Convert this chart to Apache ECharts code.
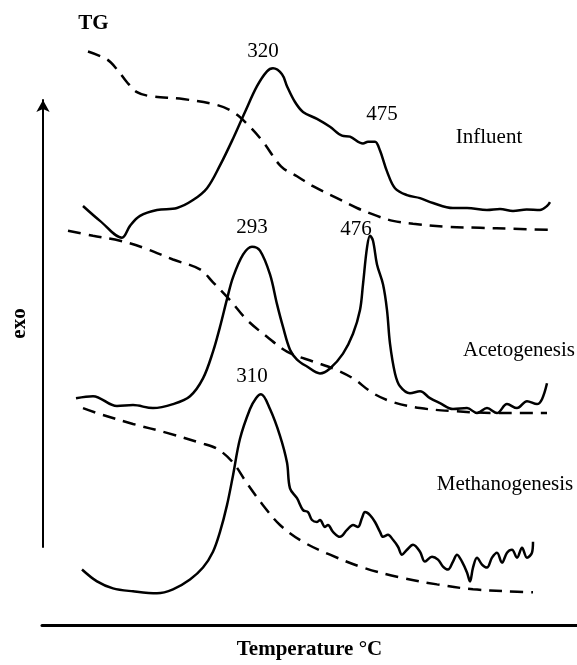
<!DOCTYPE html>
<html>
<head>
<meta charset="utf-8">
<script src="https://cdn.jsdelivr.net/npm/echarts@6/dist/echarts.min.js"></script>
<style>
html,body{margin:0;padding:0;background:#fff;}
#c{width:577px;height:665px;}
</style>
</head>
<body>
<div id="c"></div>
<script>
// Temperature (approx. °C) vs. signal (arbitrary units, curves stacked)
const influentDTA = [[44.5,84.6],[70,81.6],[103,78.2],[115,80.6],[130,82.6],[155.5,83.8],[185.5,84.2],[209.5,85.8],[230.5,88.2],[250,92.8],[269.5,98.2],[287.5,103.6],[305.5,108.8],[320.5,111.8],[329.5,112.4],[343,111.2],[350.5,108.8],[362.5,105.6],[374.5,103.6],[395.5,102.2],[415,100.6],[433,98.8],[445,98.6],[464.5,97.2],[472,97.6],[482.5,97.6],[490,95.8],[500.5,91.6],[512.5,88.2],[530.5,86.8],[550,86.2],[569.5,85.2],[599.5,84.2],[620.5,84.2],[650.5,83.8],[670,84.0],[689.5,83.6],[710,83.9],[730,83.8],[740.5,84.6],[745,85.4]];
const influentTG = [[52,115.8],[80.5,114.2],[95.5,112.2],[110.5,109.6],[125.5,107.6],[145,106.8],[194.5,106.2],[245.5,105],[269.5,103.6],[290.5,101.2],[314.5,97.6],[341.5,92.6],[365.5,90.6],[389.5,88.6],[425.5,86.2],[455.5,84.2],[485.5,82.6],[509.5,81.6],[539.5,81],[590.5,80.4],[640,80.2],[689.5,80],[745,79.8]];
const acetoDTA = [[34,45.8],[59.5,46.2],[95.5,44.2],[119.5,44.4],[149.5,43.8],[179.5,44.6],[205,46.2],[224.5,49.8],[239.5,55.2],[250,60.2],[260.5,65.8],[269.5,70.2],[284.5,74.8],[298,76.4],[310,75.6],[325,70.8],[335.5,64.8],[344.5,60.2],[355,55.6],[365.5,53.6],[380.5,52.2],[400,50.8],[415,51.8],[434.5,54.8],[449.5,58.8],[460,63.6],[464.5,68.8],[470.5,76.2],[475,78.6],[479.5,77.6],[485.5,72.8],[494.5,68.8],[500.5,63.6],[505,56.8],[512.5,50.8],[520,48.2],[535,46.8],[550,47.2],[565,45.8],[580,44.8],[599.5,43.6],[620.5,43.8],[635.5,42.8],[650.5,43.8],[665.5,42.8],[680.5,44.6],[695.5,43.8],[710.5,45.2],[725.5,44.6],[733,45.6],[740.5,48.8]];
const acetoTG = [[22,79.6],[59.5,78.6],[100,77.6],[134.5,76.2],[179.5,73.8],[220,71.8],[239.5,69.2],[265,65.6],[290.5,61.6],[320.5,58.2],[350.5,55.2],[389.5,53.2],[419.5,51.8],[449.5,49.8],[479.5,46.8],[509.5,45],[550,43.8],[599.5,43.2],[665.5,42.8],[740.5,42.8]];
const methanoDTA = [[43,11.2],[65.5,8.8],[89.5,7.4],[119.5,6.8],[155.5,6.4],[179.5,7.2],[205,9.2],[224.5,11.6],[239.5,14.8],[250,18.8],[260.5,24.2],[269.5,30.2],[280,37.6],[295,43.6],[304,45.8],[311.5,46.6],[325,43.6],[340,38.2],[350.5,32.8],[355,27.6],[365.5,25.6],[374.5,23.2],[382,22.8],[388,21.2],[395.5,20.8],[400,21.2],[407.5,19.8],[412,20.2],[419.5,18.8],[430,17.8],[440.5,19.2],[449.5,20.2],[457,19.8],[463,21.6],[467.5,22.8],[475,22.2],[482.5,20.8],[490,18.8],[494.5,17.8],[502,18.2],[509.5,17.2],[517,15.8],[523,14.2],[530.5,15.2],[539.5,16.2],[550,14.8],[557.5,12.8],[568,13.8],[577,13.2],[584.5,11.8],[592,11.2],[599.5,12.8],[605.5,14.2],[613,12.8],[620.5,10.6],[625,8.8],[629.5,11.6],[635.5,13.6],[643,12.2],[650.5,11.6],[658,13.6],[665.5,14.6],[673,12.6],[680.5,14.6],[688,15.2],[695.5,13.6],[703,15.6],[710.5,13.6],[718,14.6],[719.5,16.8]];
const methanoTG = [[44.5,43.8],[70,42.6],[119.5,40.6],[170.5,38.8],[220,36.8],[245.5,35.6],[269.5,32.8],[290.5,28.6],[314.5,24.2],[340,20.2],[374.5,16.8],[415,14.2],[464.5,11.6],[520,9.6],[575.5,8.2],[629.5,7.2],[680.5,6.8],[719.5,6.6]];

const peakTexts = ['320','475','293','476','310'];
const sampleNames = ['Influent','Acetogenesis','Methanogenesis'];

const FONT = 'Liberation Serif';
const chart = echarts.init(document.getElementById('c'), null, {renderer:'canvas'});

function curve(data, dashed){
  return {
    type:'line', data:data, xAxisIndex:0, yAxisIndex:0,
    symbol:'none', showSymbol:false, smooth:0.35, silent:true,
    lineStyle:{color:'#000', width:2.5, type: dashed ? [13,8] : 'solid', cap:'butt'}
  };
}

// annotation anchors (label placement)
const annot = [
  {name:peakTexts[0], value:[314.5,115.8]},
  {name:peakTexts[1], value:[493,103]},
  {name:peakTexts[2], value:[298,80.3]},
  {name:peakTexts[3], value:[454,79.8]},
  {name:peakTexts[4], value:[298,50.2]},
  {name:sampleNames[0], value:[653.5,98.5]},
  {name:sampleNames[1], value:[698.5,55.4]},
  {name:sampleNames[2], value:[677.5,28.4]},
  {name:'TG', value:[60,121.4], bold:true}
].map(a => ({
  name:a.name, value:a.value,
  label:{fontWeight: a.bold ? 'bold' : 'normal'}
}));

chart.setOption({
  animation:false,
  backgroundColor:'#fff',
  grid:[
    {left:42, right:0, top:0, bottom:34},
    {left:43, top:100, bottom:118, width:10}
  ],
  xAxis:[
    {type:'value', gridIndex:0, min:-17, max:785.5,
     axisLine:{show:true, onZero:false, lineStyle:{color:'#000', width:3}},
     axisTick:{show:false}, axisLabel:{show:false}, splitLine:{show:false},
     name:'Temperature °C', nameLocation:'middle', nameGap:14,
     nameTextStyle:{fontFamily:FONT, fontWeight:'bold', fontSize:21, color:'#000'}},
    {type:'value', gridIndex:1, min:0, max:1, show:false}
  ],
  yAxis:[
    {type:'value', gridIndex:0, min:0, max:126.2, show:false},
    {type:'value', gridIndex:1, min:0, max:1, position:'left',
     axisLine:{show:true, onZero:false, symbol:['none','arrow'], symbolSize:[10,12], lineStyle:{color:'#000', width:2}},
     axisTick:{show:false}, axisLabel:{show:false}, splitLine:{show:false},
     name:'exo', nameLocation:'middle', nameGap:13, nameRotate:90,
     nameTextStyle:{fontFamily:FONT, fontWeight:'bold', fontSize:21, color:'#000'}}
  ],
  series:[
    curve(influentDTA,false), curve(influentTG,true),
    curve(acetoDTA,false), curve(acetoTG,true),
    curve(methanoDTA,false), curve(methanoTG,true),
    {type:'scatter', xAxisIndex:0, yAxisIndex:0, symbolSize:0, silent:true,
     itemStyle:{color:'#000', opacity:1},
     data:annot,
     label:{show:true, position:'inside', formatter:'{b}', fontFamily:FONT, fontSize:21, color:'#000', opacity:1,
            textBorderWidth:0, textBorderColor:'transparent', align:'center', verticalAlign:'middle'}}
  ]
});
</script>
</body>
</html>
